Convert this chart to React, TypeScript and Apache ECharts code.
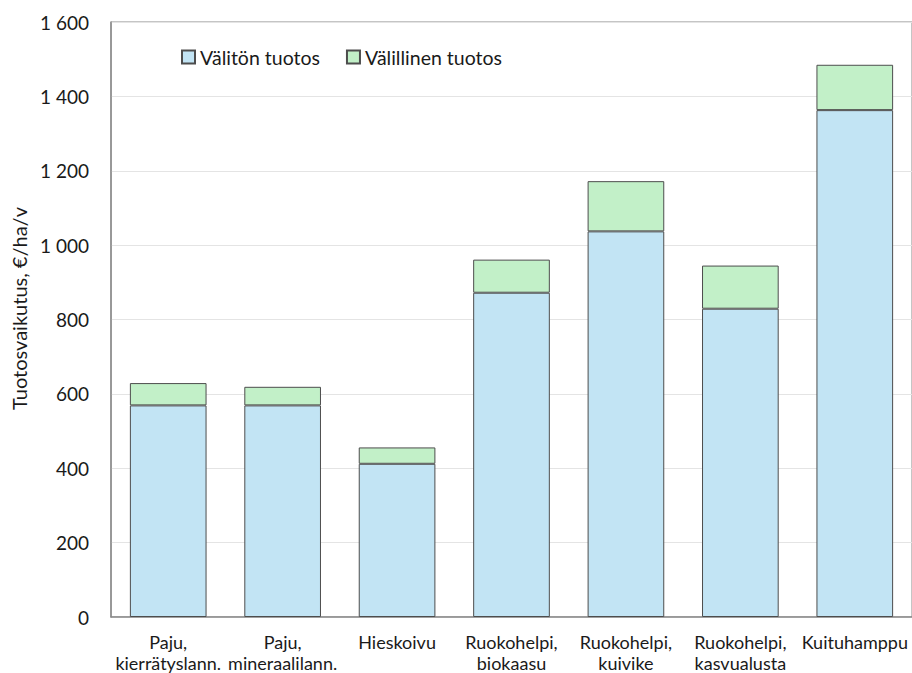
import React, { useEffect, useRef } from "react";
import * as echarts from "echarts";

const categories = [
  "Paju,\nkierrätyslann.",
  "Paju,\nmineraalilann.",
  "Hieskoivu",
  "Ruokohelpi,\nbiokaasu",
  "Ruokohelpi,\nkuivike",
  "Ruokohelpi,\nkasvualusta",
  "Kuituhamppu",
];
const direct = [569, 569, 412, 872, 1037, 829, 1363];
const indirect = [60, 50, 44, 89, 135, 116, 122];
const seriesNames = ["Välitön tuotos", "Välillinen tuotos"];
const yAxisTitle = "Tuotosvaikutus, €/ha/v";

const FONT = "Lato, 'Open Sans', sans-serif";

export default function App() {
  const ref = useRef<HTMLDivElement>(null);
  useEffect(() => {
    document.body.style.margin = "0";
    const chart = echarts.init(ref.current!, null, { renderer: "svg" });
    chart.setOption({
      animation: false,
      backgroundColor: "#ffffff",
      textStyle: { fontFamily: FONT },
      legend: {
        left: 176,
        top: 42,
        icon: "rect",
        itemWidth: 13,
        itemHeight: 13,
        itemGap: 26,
        textStyle: { fontSize: 19.5, color: "#1a1a1a", fontFamily: FONT },
        data: seriesNames,
      },
      grid: {
        left: 111,
        top: 22,
        bottom: 55.5,
        right: -6,
        show: true,
        borderColor: "#8a8a8a",
        borderWidth: 1,
        containLabel: false,
      },
      xAxis: {
        type: "category",
        data: categories,
        axisLine: { show: true, lineStyle: { color: "#8a8a8a", width: 1.5 } },
        axisTick: { show: false },
        axisLabel: {
          interval: 0,
          fontSize: 18,
          lineHeight: 21,
          margin: 14,
          color: "#1a1a1a",
          fontFamily: FONT,
        },
      },
      yAxis: {
        type: "value",
        min: 0,
        max: 1600,
        interval: 200,
        name: yAxisTitle,
        nameLocation: "middle",
        nameGap: 60,
        nameTextStyle: {
          fontSize: 20,
          color: "#1a1a1a",
          fontFamily: FONT,
          padding: [0, 0, 0, 22],
        },
        axisLine: { show: true, lineStyle: { color: "#8a8a8a", width: 1.5 } },
        axisTick: { show: false },
        splitLine: { lineStyle: { color: "#e4e4e4", width: 1 } },
        axisLabel: {
          fontSize: 19,
          margin: 22,
          color: "#1a1a1a",
          fontFamily: FONT,
          formatter: (v: number) =>
            String(v).replace(/\B(?=(\d{3})+(?!\d))/g, " "),
        },
      },
      series: [
        {
          name: seriesNames[0],
          type: "bar",
          stack: "total",
          data: direct,
          barCategoryGap: "33%",
          itemStyle: { color: "#c2e4f4", borderColor: "#4d4d4d", borderWidth: 1 },
        },
        {
          name: seriesNames[1],
          type: "bar",
          stack: "total",
          data: indirect,
          barCategoryGap: "33%",
          itemStyle: { color: "#c2f0c8", borderColor: "#4d4d4d", borderWidth: 1 },
        },
      ],
    });
    return () => chart.dispose();
  }, []);
  return <div ref={ref} style={{ width: 912, height: 673 }} />;
}
